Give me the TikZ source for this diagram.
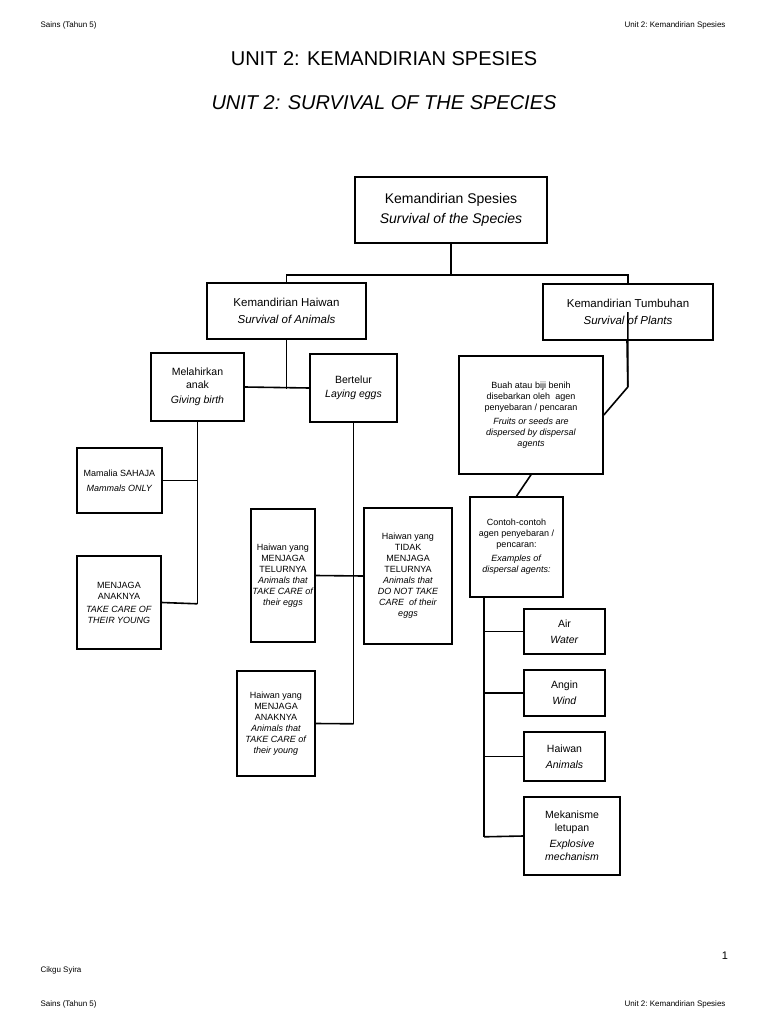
\documentclass[tikz,border=0pt]{standalone}
\usepackage{fontspec}
\setmainfont{Liberation Sans}
\usetikzlibrary{positioning}

\begin{document}
\begin{tikzpicture}[x=1pt, y=-1pt, every node/.style={font=\fontsize{9}{11}\selectfont},
  box/.style={draw, line width=1.6pt, rectangle, align=center, inner sep=1pt},
  link/.style={line width=1.6pt},
  page/.style={font=\fontsize{8}{10}\selectfont}]
  \useasboundingbox (0,0) rectangle (768,1024);

  % page header and footer
  \node[page, anchor=west] (hl) at (37,25) {Sains (Tahun 5)};
  \node[page, anchor=east] (hr) at (729,25) {Unit 2:\ Kemandirian Spesies};
  \node[font=\fontsize{20}{24}\selectfont] (t1) at (384,59) {UNIT 2: KEMANDIRIAN SPESIES};
  \node[font=\fontsize{20}{24}\selectfont\itshape] (t2) at (384,103) {UNIT 2: SURVIVAL OF THE SPECIES};
  \node[font=\fontsize{11}{13}\selectfont] (pg) at (725,956) {1};
  \node[page, anchor=west] (fl) at (37,970) {Cikgu Syira};
  \node[page, anchor=west] (bl) at (37,1004) {Sains (Tahun 5)};
  \node[page, anchor=east] (br) at (729,1004) {Unit 2:\ Kemandirian Spesies};

  % main boxes
  \node[box, minimum width=192, minimum height=66, font=\fontsize{14}{20}\selectfont] (spesies) at (451,210)
    {Kemandirian Spesies\\ \textit{Survival of the Species}};
  \node[box, minimum width=159, minimum height=56, font=\fontsize{11.5}{17}\selectfont] (haiwan) at (286.5,311)
    {Kemandirian Haiwan\\ \textit{Survival of Animals}};
  \node[box, minimum width=170, minimum height=56, font=\fontsize{11.5}{17}\selectfont] (tumbuhan) at (628,312)
    {Kemandirian Tumbuhan\\ \textit{Survival of Plants}};

  % animals
  \node[box, minimum width=93, minimum height=68, font=\fontsize{10.5}{13}\selectfont] (lahir) at (197.5,387)
    {Melahirkan\\ anak\\[2pt] \textit{Giving birth}};
  \node[box, minimum width=87, minimum height=68, font=\fontsize{10.5}{14}\selectfont] (telur) at (353.5,388)
    {Bertelur\\ \textit{Laying eggs}};
  \node[box, minimum width=85, minimum height=65] (mamalia) at (119.5,480.5)
    {Mamalia SAHAJA\\[4pt] \textit{Mammals ONLY}};
  \node[box, minimum width=84, minimum height=93] (jagaanak) at (119,602.5)
    {MENJAGA\\ ANAKNYA\\[2pt] \textit{TAKE CARE OF}\\ \textit{THEIR YOUNG}};
  \node[box, minimum width=64, minimum height=133] (jagatelur) at (283,575.5)
    {Haiwan yang\\ MENJAGA\\ TELURNYA\\ \textit{Animals that}\\ \textit{TAKE CARE of}\\ \textit{their eggs}};
  \node[box, minimum width=88, minimum height=136] (tidakjaga) at (408,576)
    {Haiwan yang\\ TIDAK\\ MENJAGA\\ TELURNYA\\ \textit{Animals that}\\ \textit{DO NOT TAKE}\\ \textit{CARE\ \ of their}\\ \textit{eggs}};
  \node[box, minimum width=78, minimum height=105] (jagamuda) at (276,723.5)
    {Haiwan yang\\ MENJAGA\\ ANAKNYA\\ \textit{Animals that}\\ \textit{TAKE CARE of}\\ \textit{their young}};

  % plants
  \node[box, minimum width=144, minimum height=118] (buah) at (531,415)
    {Buah atau biji benih\\ disebarkan oleh\ \ agen\\ penyebaran / pencaran\\[3pt] \textit{Fruits or seeds are}\\ \textit{dispersed by dispersal}\\ \textit{agents}};
  \node[box, minimum width=93, minimum height=100] (contoh) at (516.5,547)
    {Contoh-contoh\\ agen penyebaran /\\ pencaran:\\[3pt] \textit{Examples of}\\ \textit{dispersal agents:}};
  \node[box, minimum width=81, minimum height=45, font=\fontsize{10.5}{16}\selectfont] (air) at (564.5,631.5)
    {Air\\ \textit{Water}};
  \node[box, minimum width=81, minimum height=46, font=\fontsize{10.5}{16}\selectfont] (angin) at (564.5,693)
    {Angin\\ \textit{Wind}};
  \node[box, minimum width=81, minimum height=49, font=\fontsize{10.5}{16}\selectfont] (agenhaiwan) at (564.5,756.5)
    {Haiwan\\ \textit{Animals}};
  \node[box, minimum width=96, minimum height=78, font=\fontsize{10.5}{13}\selectfont] (letupan) at (572,836)
    {Mekanisme\\ letupan\\[3pt] \textit{Explosive}\\ \textit{mechanism}};

  % connectors
  \draw[link] (spesies.south) -- ++(0,31) -| (haiwan.north);
  \draw[link] (spesies.south) -- ++(0,31) -| (tumbuhan.north);
  \draw[link] (haiwan.south) -- ++(0,49) coordinate (hjoin);
  \draw[link] (lahir.east) -- (telur.west);
  \draw[link] (lahir.south) -- ++(0,182) coordinate (lbot);
  \draw[link] (mamalia.east) -| (lahir.south);
  \draw[link] (jagaanak.east) -- (lbot);
  \draw[link] (telur.south) -- ++(0,301) coordinate (tbot);
  \draw[link] (jagatelur.east) -- (tidakjaga.west);
  \draw[link] (jagamuda.east) -- (tbot);
  \draw[link] (tumbuhan.east) ++(-86,0) -- ++(0,75) coordinate (tkan) -- (buah.east);
  \draw[link] (tumbuhan.south -| 627,0) -- (tkan);
  \draw[link] (buah.south) -- (contoh.north);
  \draw[link] (contoh.south -| 484,0) -- ++(0,239) coordinate (cbot);
  \foreach \n in {air, angin, agenhaiwan} \draw[link] (\n.west) -- (\n.west -| cbot);
  \draw[link] (letupan.west) -- (cbot);
\end{tikzpicture}
\end{document}
